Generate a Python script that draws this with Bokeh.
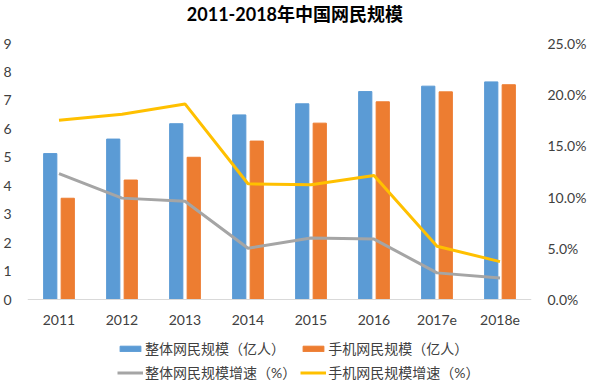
from bokeh.plotting import figure
from bokeh.models import (FactorRange, Range1d, LinearAxis, FixedTicker, Label,
                          NumeralTickFormatter, Legend, LegendItem, ColumnDataSource)
from bokeh.transform import dodge
from bokeh.embed import file_html
from bokeh.resources import INLINE

categories = ["2011", "2012", "2013", "2014", "2015", "2016", "2017e", "2018e"]
total_users = [5.13, 5.64, 6.18, 6.49, 6.88, 7.31, 7.50, 7.65]
mobile_users = [3.56, 4.20, 5.00, 5.57, 6.20, 6.95, 7.30, 7.55]
total_growth = [0.123, 0.099, 0.096, 0.050, 0.060, 0.059, 0.026, 0.021]
mobile_growth = [0.175, 0.181, 0.191, 0.113, 0.112, 0.121, 0.052, 0.037]
left_ticks = [0, 1, 2, 3, 4, 5, 6, 7, 8, 9]
right_ticks = [0.0, 0.05, 0.10, 0.15, 0.20, 0.25]

title_text = "2011-2018年中国网民规模"
labels = ["整体网民规模（亿人）", "手机网民规模（亿人）",
          "整体网民规模增速（%）", "手机网民规模增速（%）"]

FONT = "Lato, 'Noto Sans CJK SC'"
TXT = "#404040"

# layout (pixels): plot area 256 px tall, 43 px above it for the title,
# 83 px below the zero line for axis labels + legend
PLOT_H = 256
TOP_H = 43
EXTRA_H = 83
TITLE_PX = 29.5          # title centre above the top gridline, px
left_max = 9
right_max = 0.25
px_left = left_max / PLOT_H
left_min = -EXTRA_H * px_left
left_top = left_max + TOP_H * px_left
right_min = -EXTRA_H * right_max / PLOT_H
right_top = right_max + TOP_H * right_max / PLOT_H

src = ColumnDataSource(dict(cat=categories, total=total_users, mobile=mobile_users,
                            tg=total_growth, mg=mobile_growth))

p = figure(width=592, height=382, output_backend="svg", toolbar_location=None,
           x_range=FactorRange(*categories, range_padding=0),
           y_range=Range1d(left_min, left_top),
           min_border_left=24, min_border_right=61, min_border_top=0,
           min_border_bottom=0)
p.extra_y_ranges = {"pct": Range1d(right_min, right_top)}
p.outline_line_color = None
p.grid.visible = False
p.background_fill_color = "white"

p.add_layout(Label(x=4.245, y=left_max + TITLE_PX * px_left, text=title_text,
                   text_align="center", text_baseline="middle",
                   text_font=FONT, text_font_size="18px", text_font_style="bold",
                   text_color="#000000"))

b1 = p.vbar(x=dodge("cat", -0.139, range=p.x_range), top="total", width=0.21,
            source=src, color="#5B9BD5")
b2 = p.vbar(x=dodge("cat", 0.139, range=p.x_range), top="mobile", width=0.21,
            source=src, color="#ED7D31")
l1 = p.line(x="cat", y="tg", source=src, y_range_name="pct",
            line_color="#A5A5A5", line_width=3)
l2 = p.line(x="cat", y="mg", source=src, y_range_name="pct",
            line_color="#FFC000", line_width=3)

# x axis drawn at the zero line
xa = p.xaxis[0]
xa.fixed_location = 0
xa.axis_line_color = "#D9D9D9"
xa.major_tick_line_color = None
xa.minor_tick_line_color = None
xa.major_tick_out = 0
xa.major_tick_in = 0
xa.major_label_standoff = 15
xa.major_label_text_font = FONT
xa.major_label_text_font_size = "14px"
xa.major_label_text_color = TXT

ya = p.yaxis[0]
ya.ticker = FixedTicker(ticks=left_ticks)
ya.axis_line_color = None
ya.major_tick_line_color = None
ya.minor_tick_line_color = None
ya.major_tick_out = 0
ya.major_tick_in = 0
ya.major_label_standoff = 16
ya.major_label_text_font = FONT
ya.major_label_text_font_size = "14px"
ya.major_label_text_color = TXT

ra = LinearAxis(y_range_name="pct", ticker=FixedTicker(ticks=right_ticks),
                formatter=NumeralTickFormatter(format="0.0%"))
ra.axis_line_color = None
ra.major_tick_line_color = None
ra.minor_tick_line_color = None
ra.major_tick_out = 0
ra.major_tick_in = 0
ra.major_label_standoff = 16
ra.major_label_text_font = FONT
ra.major_label_text_font_size = "14px"
ra.major_label_text_color = TXT
p.add_layout(ra, "right")

legend = Legend(items=[LegendItem(label=labels[0], renderers=[b1]),
                       LegendItem(label=labels[1], renderers=[b2]),
                       LegendItem(label=labels[2], renderers=[l1]),
                       LegendItem(label=labels[3], renderers=[l2])],
                location=(90, 0), orientation="horizontal", nrows=2,
                glyph_width=26, glyph_height=7, label_standoff=2,
                label_height=20, label_width=150, spacing=4, padding=0, margin=0,
                label_text_font=FONT, label_text_font_size="14px",
                label_text_color=TXT, border_line_color=None,
                background_fill_alpha=0)
p.add_layout(legend)

open("out.html", "w").write(file_html(p, INLINE))
